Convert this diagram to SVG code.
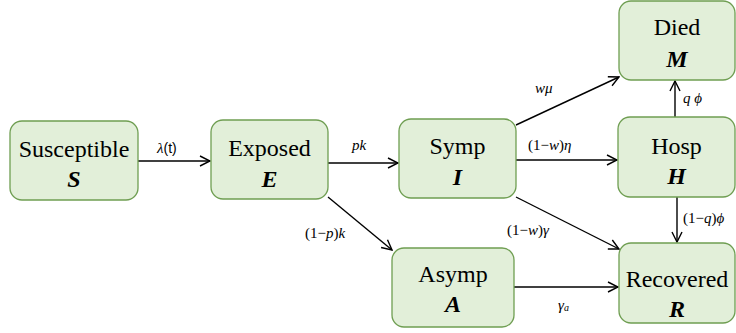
<svg xmlns="http://www.w3.org/2000/svg" width="736" height="333" viewBox="0 0 736 333" font-family="Liberation Serif, serif">
<defs>
<marker id="arr" viewBox="0 0 12 12" refX="11" refY="6" markerWidth="12" markerHeight="12" markerUnits="userSpaceOnUse" orient="auto">
<path d="M1,1 L11,6 L1,11" fill="none" stroke="#000" stroke-width="1.4"/>
</marker>
</defs>
<style>
.box{fill:#e2efd9;stroke:#6f9e52;stroke-width:1.3}
.t{font-size:24px;text-anchor:middle;fill:#000}
.v{font-size:24px;font-weight:bold;font-style:italic;text-anchor:middle;fill:#000}
.l{font-size:15px;fill:#000}
.i{font-style:italic}
.c{fill:none;stroke:#000;stroke-width:1.4;marker-end:url(#arr)}
</style>
<g id="connectors">
<line class="c" x1="138" y1="161" x2="210" y2="161"/>
<line class="c" x1="328" y1="163" x2="398" y2="163"/>
<line class="c" x1="516" y1="125" x2="619" y2="77"/>
<line class="c" x1="516" y1="160" x2="617" y2="160"/>
<line class="c" x1="516" y1="197" x2="619" y2="249"/>
<line class="c" x1="328" y1="197" x2="392" y2="250"/>
<line class="c" x1="514" y1="287" x2="618" y2="287"/>
<line class="c" x1="675" y1="117" x2="675" y2="81"/>
<line class="c" x1="677" y1="197" x2="677" y2="242"/>
<text class="l" x="157" y="153" font-family="Liberation Serif, serif"><tspan class="i">λ</tspan><tspan font-family="Liberation Sans, sans-serif" font-size="14">(t)</tspan></text>
<text class="l i" x="352" y="150" font-family="Liberation Serif, serif">pk</text>
<text class="l i" x="535" y="93" font-family="Liberation Serif, serif">wμ</text>
<text class="l" x="528" y="150" font-family="Liberation Serif, serif">(1−<tspan class="i">w</tspan>)<tspan class="i">η</tspan></text>
<text class="l" x="507" y="235" font-size="14" font-family="Liberation Serif, serif">(1−<tspan class="i">w</tspan>)<tspan class="i">γ</tspan></text>
<text class="l" x="305" y="238" font-size="14" font-family="Liberation Serif, serif">(1−<tspan class="i">p</tspan>)<tspan class="i">k</tspan></text>
<text class="l i" x="558" y="310" font-family="Liberation Serif, serif">γ<tspan font-size="10" dy="1">a</tspan></text>
<text class="l i" x="683" y="103" font-family="Liberation Serif, serif">q ϕ</text>
<text class="l" x="683" y="223" font-size="14" font-family="Liberation Serif, serif">(1−<tspan class="i">q</tspan>)<tspan class="i">ϕ</tspan></text>
</g>
<g id="S" font-family="Liberation Serif, serif"><rect class="box" x="10" y="121" width="128" height="79" rx="12"/><text class="t" x="74" y="157">Susceptible</text><text class="v" x="74" y="187">S</text></g>
<g id="E" font-family="Liberation Serif, serif"><rect class="box" x="211" y="120" width="117" height="79" rx="12"/><text class="t" x="269.5" y="156">Exposed</text><text class="v" x="269.5" y="187">E</text></g>
<g id="I" font-family="Liberation Serif, serif"><rect class="box" x="399" y="119" width="117" height="79" rx="12"/><text class="t" x="457.5" y="154">Symp</text><text class="v" x="457.5" y="185">I</text></g>
<g id="M" font-family="Liberation Serif, serif"><rect class="box" x="619" y="1" width="116" height="79" rx="12"/><text class="t" x="677" y="35">Died</text><text class="v" x="677" y="67">M</text></g>
<g id="H" font-family="Liberation Serif, serif"><rect class="box" x="618" y="117" width="117" height="80" rx="12"/><text class="t" x="676.5" y="154">Hosp</text><text class="v" x="676.5" y="184">H</text></g>
<g id="R" font-family="Liberation Serif, serif"><rect class="box" x="619" y="243" width="116" height="80" rx="12"/><text class="t" x="677" y="287">Recovered</text><text class="v" x="677" y="317">R</text></g>
<g id="A" font-family="Liberation Serif, serif"><rect class="box" x="392" y="248" width="122" height="79" rx="12"/><text class="t" x="453" y="282">Asymp</text><text class="v" x="453" y="312">A</text></g>
</svg>
